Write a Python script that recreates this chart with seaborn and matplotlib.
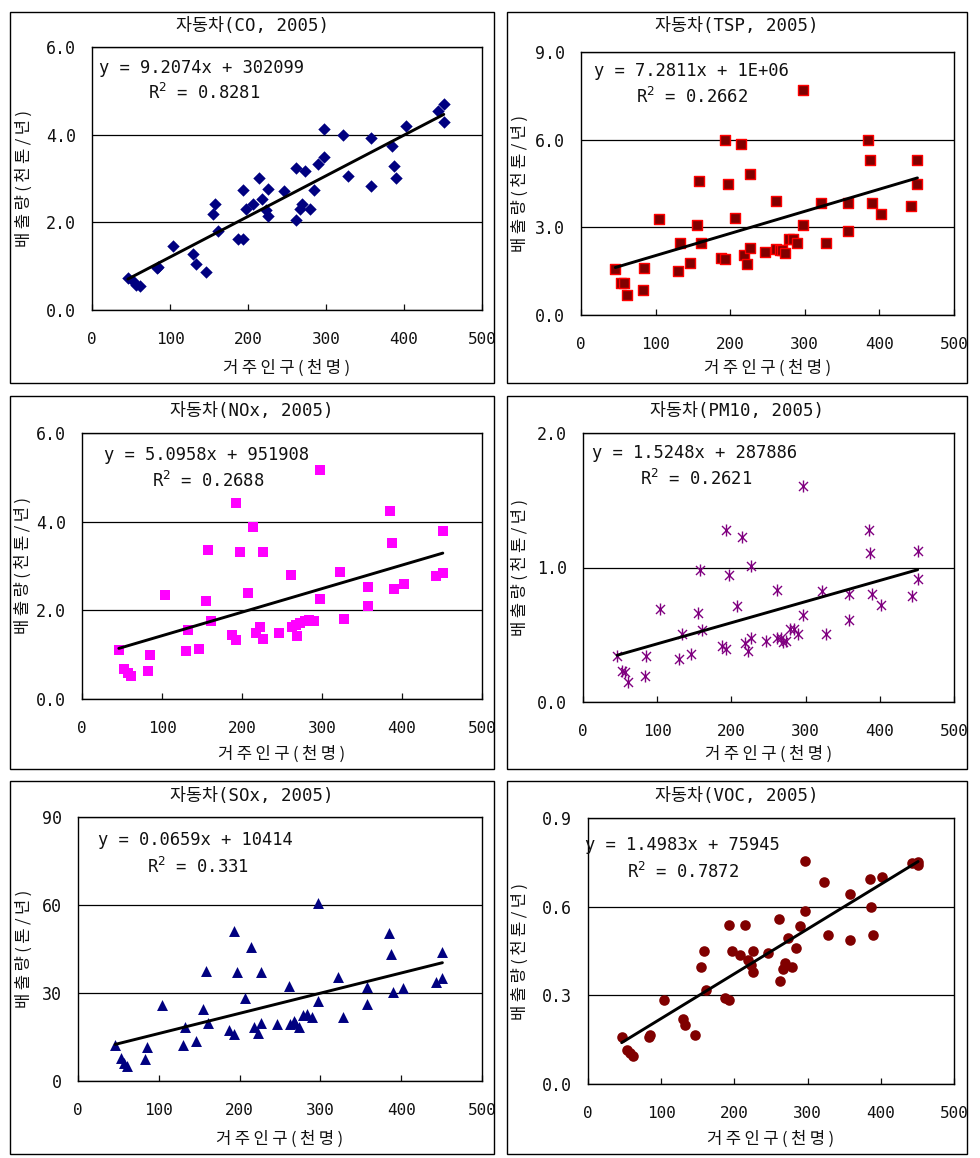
import numpy as np
import pandas as pd
import matplotlib
matplotlib.use("Agg")
import matplotlib.pyplot as plt
import seaborn as sns
from matplotlib.path import Path
from matplotlib.patches import Rectangle
from matplotlib.ticker import FormatStrFormatter

# ---------------- data ----------------
population = [46, 53, 57, 61, 83, 85, 104, 130, 133, 146, 155, 158, 161, 187, 193,
              193, 197, 207, 214, 218, 223, 226, 226, 246, 261, 262, 267, 269, 273, 279,
              284, 290, 297, 297, 322, 328, 358, 358, 385, 387, 390, 402, 443, 451, 451]

co = [0.74, 0.66, 0.58, 0.55, 0.95, 0.99, 1.47, 1.27, 1.06, 0.86, 2.20, 2.41, 1.81, 1.61, 1.63,
      2.73, 2.30, 2.41, 3.01, 2.54, 2.28, 2.77, 2.14, 2.72, 3.23, 2.05, 2.30, 2.41, 3.17, 2.30,
      2.73, 3.32, 3.49, 4.12, 3.99, 3.05, 3.93, 2.82, 3.74, 3.28, 3.01, 4.19, 4.53, 4.69, 4.29]

tsp = [1.57, 1.10, 1.08, 0.68, 0.85, 1.62, 3.28, 1.51, 2.45, 1.77, 3.08, 4.58, 2.47, 1.94, 1.91,
       6.00, 4.50, 3.33, 5.84, 2.05, 1.73, 4.84, 2.28, 2.16, 3.90, 2.26, 2.24, 2.24, 2.13, 2.59,
       2.59, 2.45, 3.08, 7.69, 3.84, 2.45, 3.84, 2.87, 6.00, 5.30, 3.84, 3.44, 3.74, 5.30, 4.48]

nox = [1.11, 0.68, 0.58, 0.51, 0.64, 1.00, 2.34, 1.08, 1.55, 1.13, 2.20, 3.37, 1.77, 1.44, 1.34,
       4.41, 3.31, 2.39, 3.87, 1.50, 1.62, 3.31, 1.35, 1.50, 2.80, 1.62, 1.68, 1.41, 1.72, 1.77,
       1.79, 1.75, 2.26, 5.17, 2.86, 1.80, 2.52, 2.09, 4.23, 3.53, 2.47, 2.60, 2.77, 3.78, 2.84]

pm10 = [0.344, 0.233, 0.22, 0.146, 0.191, 0.344, 0.694, 0.320, 0.508, 0.359, 0.662, 0.979, 0.533,
        0.419, 0.397, 1.276, 0.947, 0.716, 1.224, 0.439, 0.377, 1.014, 0.476, 0.456, 0.835, 0.476,
        0.476, 0.444, 0.45, 0.543, 0.543, 0.506, 0.649, 1.603, 0.823, 0.506, 0.805, 0.607, 1.276,
        1.108, 0.805, 0.724, 0.791, 1.120, 0.917]

sox = [12.3, 7.7, 6.2, 5.1, 7.4, 11.7, 25.9, 12.3, 18.3, 13.8, 24.5, 37.5, 19.7, 17.4, 15.9,
       51.0, 37.0, 28.4, 45.6, 18.3, 16.3, 37.0, 19.9, 19.5, 32.5, 19.3, 20.3, 19.8, 18.3, 22.5,
       22.9, 21.7, 27.4, 60.6, 35.6, 21.7, 32.2, 26.3, 50.6, 43.3, 30.5, 31.6, 33.9, 44.1, 35.0]

voc = [0.159, 0.116, 0.105, 0.094, 0.159, 0.165, 0.283, 0.220, 0.201, 0.165, 0.395, 0.449, 0.319,
       0.291, 0.283, 0.539, 0.449, 0.437, 0.539, 0.421, 0.404, 0.449, 0.379, 0.443, 0.558, 0.350,
       0.389, 0.409, 0.494, 0.395, 0.460, 0.533, 0.584, 0.753, 0.683, 0.503, 0.644, 0.488, 0.693,
       0.599, 0.503, 0.699, 0.748, 0.742, 0.751]

titles = ["자동차(CO, 2005)", "자동차(TSP, 2005)", "자동차(NOx, 2005)",
          "자동차(PM10, 2005)", "자동차(SOx, 2005)", "자동차(VOC, 2005)"]
equations = ["y = 9.2074x + 302099", "y = 7.2811x + 1E+06", "y = 5.0958x + 951908",
             "y = 1.5248x + 287886", "y = 0.0659x + 10414", "y = 1.4983x + 75945"]
r2_texts = ["0.8281", "0.2662", "0.2688", "0.2621", "0.331", "0.7872"]
ylabels = ["배출량(천톤/년)"] * 4 + ["배출량(톤/년)", "배출량(천톤/년)"]
xlabel = "거주인구(천명)"
x_ticks = [0, 100, 200, 300, 400, 500]
y_ticks = [[0, 2, 4, 6], [0, 3, 6, 9], [0, 2, 4, 6], [0, 1, 2], [0, 30, 60, 90], [0, 0.3, 0.6, 0.9]]
series = [co, tsp, nox, pm10, sox, voc]

# ---------------- style ----------------
sns.set_style("white")
MONO = ['DejaVu Sans Mono', 'Noto Sans CJK KR']
KOR = ['Noto Sans CJK KR', 'DejaVu Sans']
plt.rcParams['font.family'] = MONO
plt.rcParams['mathtext.fontset'] = 'dejavusans'

THIN = "\u2009"


def spaced(s):
    return THIN.join(s)


W, H = 980, 1158
fig = plt.figure(figsize=(W / 100, H / 100), dpi=100)

star = Path([(0, -1), (0, 1), (-0.75, -0.75), (0.75, 0.75), (-0.75, 0.75), (0.75, -0.75)],
            [Path.MOVETO, Path.LINETO] * 3)

layout = [
    dict(box=(10, 12, 494, 383), ax=(92, 47, 482, 310), fmt='%.1f', marker='D', s=40,
         fc='#000080', ec='#000080', lw=0, eq=(99, 68), r2=(148, 93), title=(252, 26),
         ylab=-0.175, xlab=-0.2205),
    dict(box=(507, 12, 967, 383), ax=(581, 52, 954, 315), fmt='%.1f', marker='s', s=50,
         fc='#800000', ec='#FF0000', lw=1.0, eq=(594, 71), r2=(636, 97), title=(737, 26),
         ylab=-0.162, xlab=-0.2015),
    dict(box=(10, 396, 494, 769), ax=(82, 433, 482, 699), fmt='%.1f', marker='s', s=50,
         fc='#FF00FF', ec='#FF00FF', lw=0, eq=(104, 455), r2=(152, 481), title=(252, 411),
         ylab=-0.146, xlab=-0.207),
    dict(box=(507, 396, 967, 769), ax=(583, 433, 954, 702), fmt='%.1f', marker=star, s=75,
         fc='#800080', ec='#800080', lw=1.0, eq=(592, 453), r2=(640, 479), title=(737, 411),
         ylab=-0.168, xlab=-0.193),
    dict(box=(10, 781, 494, 1154), ax=(78, 817, 482, 1081), fmt='%d', marker='^', s=62,
         fc='#000080', ec='#000080', lw=0, eq=(98, 840), r2=(147, 867), title=(252, 796),
         ylab=-0.134, xlab=-0.22),
    dict(box=(507, 781, 967, 1154), ax=(588, 818, 954, 1084), fmt='%.1f', marker='o', s=58,
         fc='#800000', ec='#800000', lw=0, eq=(585, 845), r2=(627, 872), title=(737, 796),
         ylab=-0.184, xlab=-0.207),
]

for i, cfg in enumerate(layout):
    df = pd.DataFrame({"pop": population, "val": series[i]})
    bx0, by0, bx1, by1 = cfg['box']
    fig.add_artist(Rectangle((bx0 / W, 1 - by1 / H), (bx1 - bx0) / W, (by1 - by0) / H,
                             transform=fig.transFigure, fill=False, ec='black', lw=1.0))
    L, T, R, B = cfg['ax']
    ax = fig.add_axes([L / W, 1 - B / H, (R - L) / W, (B - T) / H])

    sns.scatterplot(data=df, x="pop", y="val", marker=cfg['marker'], s=cfg['s'],
                    color=cfg['fc'], edgecolor=cfg['ec'], linewidth=cfg['lw'],
                    ax=ax, legend=False, zorder=3)
    sns.regplot(data=df, x="pop", y="val", scatter=False, ci=None, truncate=True,
                color='black', line_kws={'lw': 2.1, 'zorder': 4}, ax=ax)

    yt = y_ticks[i]
    ax.set_xlim(0, 500)
    ax.set_ylim(yt[0], yt[-1])
    ax.set_xticks(x_ticks)
    ax.set_yticks(yt)
    ax.yaxis.set_major_formatter(FormatStrFormatter(cfg['fmt']))
    ax.set_axisbelow(True)
    ax.yaxis.grid(True, color='black', lw=0.9)
    ax.xaxis.grid(False)
    for sp in ax.spines.values():
        sp.set_color('black')
        sp.set_linewidth(1.0)
    ax.tick_params(axis='y', length=0, pad=11.5, labelsize=12, colors='#111111')
    ax.tick_params(axis='x', direction='in', length=4.5, width=0.9, pad=15.5,
                   labelsize=11.5, bottom=True, top=False, colors='#111111')

    ax.set_xlabel(spaced(xlabel), fontsize=12, va='center', color='#111111', family=KOR)
    ax.xaxis.set_label_coords(0.5, cfg['xlab'])
    ax.set_ylabel(spaced(ylabels[i]), fontsize=12, va='center', color='#111111', family=KOR)
    ax.yaxis.set_label_coords(cfg['ylab'], 0.5)

    tx, ty = cfg['title']
    fig.text(tx / W, 1 - ty / H, titles[i], ha='center', va='center', fontsize=12.5,
             color='#111111')
    ex, ey = cfg['eq']
    fig.text(ex / W, 1 - ey / H, equations[i], ha='left', va='center', fontsize=12.3,
             color='#111111')
    rx, ry = cfg['r2']
    fig.text(rx / W, 1 - ry / H, "R$^2$ = " + r2_texts[i], ha='left', va='center',
             fontsize=12.3, color='#111111')

fig.savefig("out.png", dpi=100)
